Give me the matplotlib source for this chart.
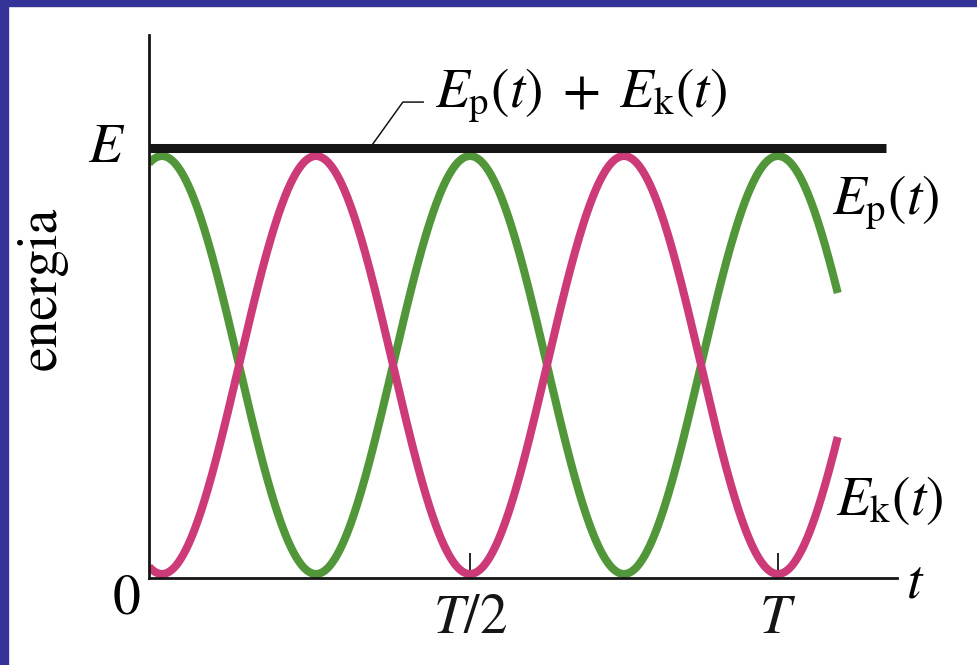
import numpy as np
import matplotlib
matplotlib.use('Agg')
import matplotlib.pyplot as plt
from matplotlib.transforms import offset_copy
from matplotlib.patches import Rectangle

plt.rcParams['mathtext.fontset'] = 'stix'
plt.rcParams['font.family'] = ['STIXGeneral', 'DejaVu Serif']

# ---- data -------------------------------------------------------------
E = 1.0          # total energy
T = 1.0          # period of the oscillation
t_start = -0.021
t_end = 1.097
t = np.linspace(t_start, t_end, 800)
Ep = E * np.cos(2 * np.pi * t / T) ** 2     # potential energy
Ek = E - Ep                                 # kinetic energy

xtick_vals = [T / 2, T]
xtick_labels = [r'$T/2$', r'$T$']
label_total = r'$E_{\mathrm{p}}(t)\;+\;E_{\mathrm{k}}(t)$'
label_p = r'$E_{\mathrm{p}}(t)$'
label_k = r'$E_{\mathrm{k}}(t)$'
ylabel = 'energia'

# ---- style ------------------------------------------------------------
green = '#52963a'
pink = '#cc3a78'
blue = '#333399'
black = '#151515'
fs = 40

W, H = 978, 665
fig = plt.figure(figsize=(W / 100, H / 100), dpi=100)
fig.patch.set_facecolor('white')

ax = fig.add_axes([149 / W, (H - 578) / H, (897 - 149) / W, (578 - 35) / H])
ax.set_xlim(-0.0211, 1.1932)
ax.set_ylim(-0.0096, 1.2895)

ax.plot(t, Ep, color=green, lw=5.8, solid_capstyle='butt', zorder=2)
ax.plot(t, Ek, color=pink, lw=5.8, solid_capstyle='butt', zorder=2)

# total energy line (drawn just above the curve peaks)
line_tr = offset_copy(ax.transData, fig=fig, y=5.5, units='points')
ax.plot([-0.0211, 1.175], [E, E], color=black, lw=6.5,
        solid_capstyle='butt', transform=line_tr, zorder=3)

# leader line to the total-energy label
ax.plot([0.338, 0.391, 0.424], [1.02, 1.129, 1.129], color=black,
        lw=1.1, zorder=1)
ax.text(0.443, 1.115, label_total, fontsize=fs, ha='left', va='baseline')
ax.text(1.087, 0.859, label_p, fontsize=fs, ha='left', va='baseline')
ax.text(1.094, 0.141, label_k, fontsize=fs, ha='left', va='baseline')

for s in ['top', 'right']:
    ax.spines[s].set_visible(False)
for s in ['left', 'bottom']:
    ax.spines[s].set_linewidth(2)
    ax.spines[s].set_color(black)

ax.set_yticks([])
ax.set_xticks(xtick_vals)
ax.set_xticklabels(xtick_labels, fontsize=fs)
ax.tick_params(axis='x', direction='in', length=18, width=1.3,
               pad=12, colors=black)

fig.text(125 / W, 1 - 162 / H, r'$E$', fontsize=fs, ha='right', va='baseline')
fig.text(127 / W, 1 - 613 / H, '0', fontsize=fs, ha='center', va='baseline')
fig.text(906 / W, 1 - 598 / H, r'$t$', fontsize=fs, ha='left', va='baseline')
fig.text(42 / W, 1 - 288 / H, ylabel, fontsize=fs, rotation=90,
         ha='center', va='center')

# blue frame (top and left bands)
fig.add_artist(Rectangle((0, 1 - 6 / H), 1, 6 / H, transform=fig.transFigure,
                         color=blue, zorder=10))
fig.add_artist(Rectangle((0, 0), 8 / W, 1, transform=fig.transFigure,
                         color=blue, zorder=10))

fig.savefig('out.png', dpi=100, facecolor='white')
